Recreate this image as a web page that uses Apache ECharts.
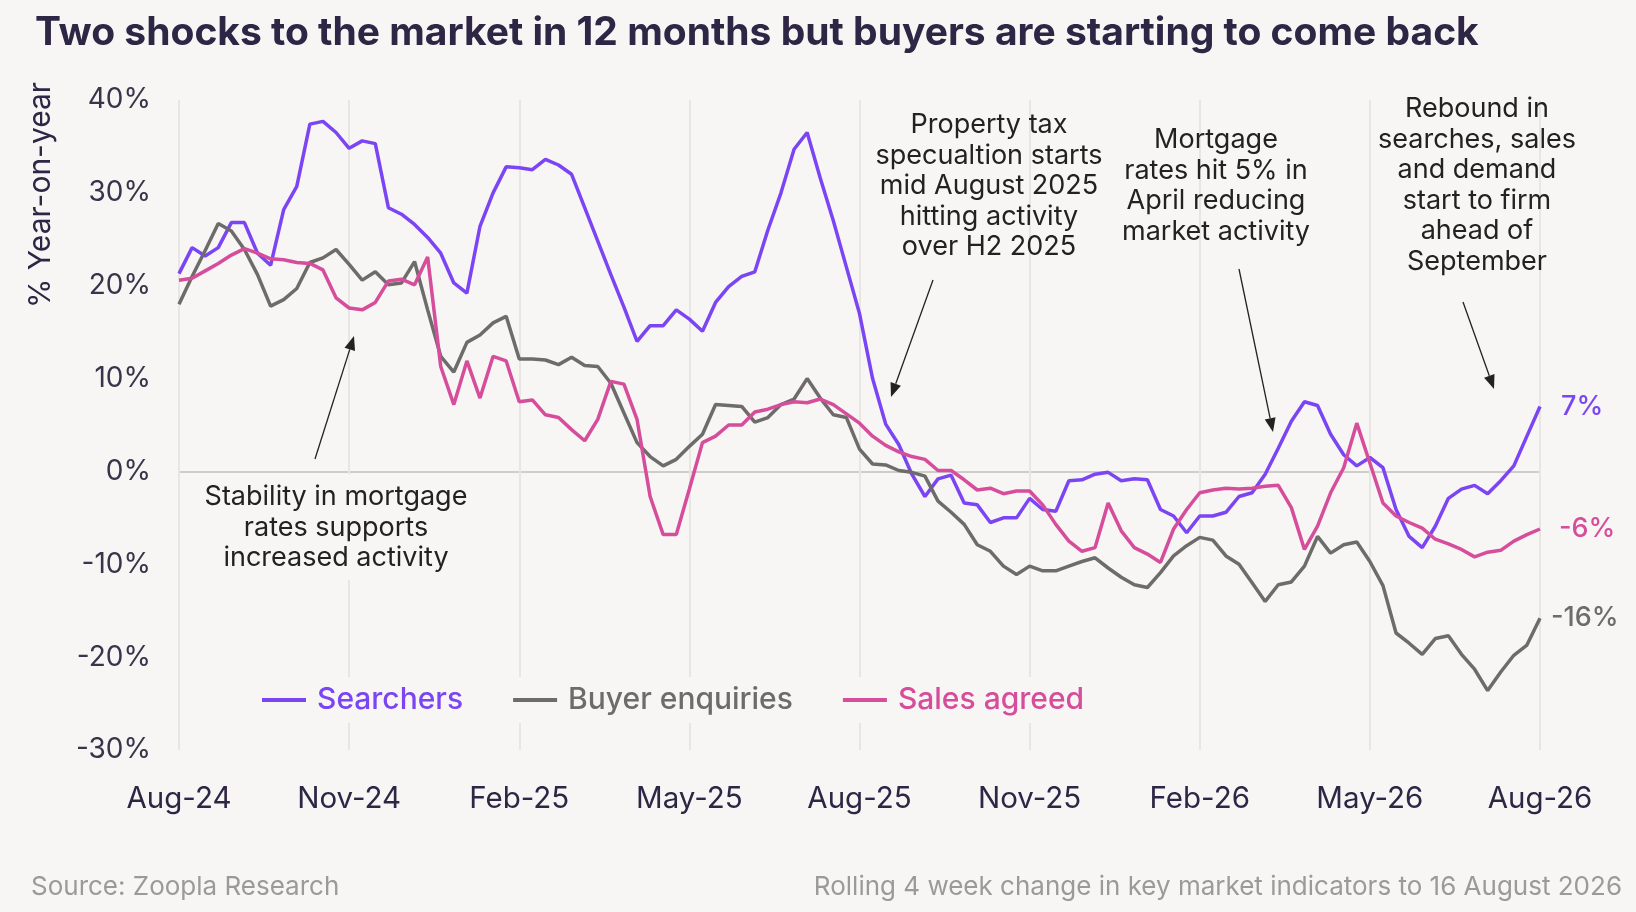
<!DOCTYPE html>
<html>
<head>
<meta charset="utf-8">
<title>Zoopla market indicators</title>
<script src="https://cdn.jsdelivr.net/npm/echarts@6.0.0/dist/echarts.min.js"></script>
<style>
	html, body { margin: 0; padding: 0; background: #f7f6f4; }
	#main { width: 1636px; height: 912px; }
</style>
</head>
<body>
<div id="main"></div>
<script>
// weekly points, rolling 4 week change, to 16 Aug 2026
var tickLabels = ['Aug-24','Nov-24','Feb-25','May-25','Aug-25','Nov-25','Feb-26','May-26','Aug-26'];

var searchers = [
	21.3, 24.1, 23.2, 24.1, 26.8, 26.8, 23.5, 22.2, 28.2, 30.7,
	37.4, 37.7, 36.5, 34.8, 35.6, 35.3, 28.4, 27.7, 26.6, 25.2,
	23.5, 20.3, 19.2, 26.4, 30.0, 32.8, 32.7, 32.5, 33.6, 33.0,
	32.0, 28.4, 24.8, 21.2, 17.7, 14.0, 15.7, 15.7, 17.4, 16.4,
	15.1, 18.2, 19.9, 21.0, 21.5, 26.0, 30.0, 34.7, 36.5, 31.6,
	27.0, 22.0, 17.0, 10.0, 5.1, 2.9, -0.3, -2.7, -0.8, -0.4,
	-3.4, -3.6, -5.5, -5.0, -5.0, -2.9, -4.1, -4.3, -1.0, -0.9,
	-0.3, -0.1, -1.0, -0.8, -0.9, -4.1, -4.8, -6.6, -4.8, -4.8,
	-4.4, -2.7, -2.3, -0.3, 2.5, 5.4, 7.5, 7.1, 4.0, 1.8,
	0.6, 1.5, 0.4, -4.1, -7.0, -8.2, -5.9, -2.9, -1.9, -1.5,
	-2.4, -1.0, 0.6, 3.8, 7.0
];

var buyerEnquiries = [
	18.0, 21.0, 23.8, 26.7, 25.9, 23.9, 21.2, 17.8, 18.5, 19.7,
	22.5, 23.0, 23.9, 22.3, 20.6, 21.5, 20.1, 20.3, 22.6, 17.4,
	12.4, 10.7, 13.9, 14.7, 16.0, 16.7, 12.1, 12.1, 12.0, 11.5,
	12.3, 11.4, 11.3, 9.5, 6.3, 3.1, 1.6, 0.6, 1.3, 2.7,
	4.0, 7.2, 7.1, 7.0, 5.3, 5.8, 7.2, 7.8, 10.0, 7.9,
	6.1, 5.8, 2.4, 0.8, 0.7, 0.1, -0.1, -0.5, -3.2, -4.4,
	-5.7, -7.9, -8.6, -10.2, -11.1, -10.2, -10.7, -10.7, -10.2, -9.7,
	-9.3, -10.4, -11.4, -12.2, -12.5, -10.9, -9.1, -8.0, -7.1, -7.4,
	-9.1, -10.0, -12.0, -14.0, -12.2, -11.9, -10.2, -7.0, -8.8, -7.9,
	-7.6, -9.7, -12.3, -17.4, -18.5, -19.7, -18.0, -17.7, -19.7, -21.3,
	-23.6, -21.6, -19.8, -18.7, -15.8
];

var salesAgreed = [
	20.6, 20.8, 21.6, 22.4, 23.3, 24.0, 23.5, 22.9, 22.8, 22.5,
	22.4, 21.7, 18.7, 17.6, 17.4, 18.2, 20.5, 20.7, 20.1, 23.1,
	11.3, 7.2, 11.9, 7.9, 12.4, 11.9, 7.5, 7.7, 6.1, 5.8,
	4.5, 3.3, 5.6, 9.7, 9.4, 5.6, -2.7, -6.8, -6.8, -1.9,
	3.1, 3.8, 5.0, 5.0, 6.4, 6.7, 7.2, 7.5, 7.4, 7.8,
	7.2, 6.2, 5.2, 3.8, 2.8, 2.1, 1.6, 1.3, 0.1, 0.1,
	-0.9, -2.0, -1.8, -2.4, -2.1, -2.1, -3.6, -5.7, -7.5, -8.6,
	-8.2, -3.4, -6.4, -8.2, -8.9, -9.8, -6.2, -4.1, -2.3, -2.0,
	-1.8, -1.9, -1.8, -1.6, -1.5, -3.9, -8.4, -5.9, -2.3, 0.4,
	5.2, 0.9, -3.4, -4.8, -5.5, -6.1, -7.3, -7.8, -8.4, -9.2,
	-8.7, -8.5, -7.5, -6.8, -6.2
];

// week ending dates for the category axis
var weeks = [];
var d = new Date(Date.UTC(2024, 7, 18));
for (var i = 0; i < searchers.length; i++) {
	weeks.push(d.toISOString().slice(0, 10));
	d = new Date(d.getTime() + 7 * 86400000);
}

var FONT = 'Inter';
var BG = '#f7f6f4';
var PURPLE = '#7b45f4';
var GREY = '#6d6c6a';
var PINK = '#d64d9b';
var NAVY = '#2e2645';
var INK = '#222222';

function arrow(x1, y1, x2, y2) {
	var dx = x2 - x1, dy = y2 - y1;
	var len = Math.sqrt(dx * dx + dy * dy);
	var ux = dx / len, uy = dy / len;
	var L = 14, W = 11;
	var bx = x2 - ux * L, by = y2 - uy * L;
	return [
		{ type: 'line', z: 5, shape: { x1: x1, y1: y1, x2: bx, y2: by }, style: { stroke: INK, lineWidth: 1.3 } },
		{ type: 'polygon', z: 5, shape: { points: [[x2, y2], [bx - uy * W / 2, by + ux * W / 2], [bx + uy * W / 2, by - ux * W / 2]] }, style: { fill: INK } }
	];
}

function note(x, yFirst, text) {
	return {
		type: 'text', z: 5, x: x, y: yFirst - 15.25,
		style: { text: text, fill: INK, font: '27px ' + FONT, textAlign: 'center', verticalAlign: 'top', lineHeight: 30.5 }
	};
}

var graphics = [
	// box under the left note hides the grid lines
	{ type: 'rect', z: 1, shape: { x: 181, y: 474, width: 311, height: 106 }, style: { fill: BG } },
	{ type: 'text', x: 41, y: 195, rotation: Math.PI / 2,
	  style: { text: '% Year-on-year', fill: NAVY, font: '30px ' + FONT, textAlign: 'center', verticalAlign: 'middle' } },
	{ type: 'text', x: 31, y: 887,
	  style: { text: 'Source: Zoopla Research', fill: '#9b9a98', font: '26px ' + FONT, textAlign: 'left', verticalAlign: 'middle' } },
	{ type: 'text', x: 1622, y: 887,
	  style: { text: 'Rolling 4 week change in key market indicators to 16 August 2026', fill: '#9b9a98', font: '26px ' + FONT, textAlign: 'right', verticalAlign: 'middle' } },
	note(336, 497, 'Stability in mortgage\nrates supports\nincreased activity'),
	note(989, 125, 'Property tax\nspecualtion starts\nmid August 2025\nhitting activity\nover H2 2025'),
	note(1216, 140, 'Mortgage\nrates hit 5% in\nApril reducing\nmarket activity'),
	note(1477, 109, 'Rebound in\nsearches, sales\nand demand\nstart to firm\nahead of\nSeptember')
];
graphics = graphics.concat(
	arrow(315, 459, 354, 336),
	arrow(933, 280, 891, 397),
	arrow(1239, 269, 1273, 432),
	arrow(1463, 302, 1494, 389)
);

function lineSeries(name, data, color, dist) {
	return {
		name: name,
		type: 'line',
		data: data,
		showSymbol: false,
		symbol: 'none',
		lineStyle: { color: color, width: 3.5 },
		itemStyle: { color: color },
		endLabel: {
			show: true,
			distance: dist,
			color: color,
			fontFamily: FONT,
			fontSize: 27,
			fontWeight: 500,
			formatter: function (p) { return Math.round(p.value) + '%'; }
		}
	};
}

var myChart = echarts.init(document.getElementById('main'));
var option = {
	backgroundColor: BG,
	animation: false,
	title: {
		text: 'Two shocks to the market in 12 months but buyers are starting to come back',
		left: 30,
		top: 9,
		textStyle: { fontFamily: FONT, fontSize: 39, fontWeight: 700, color: NAVY }
	},
	legend: {
		left: 250,
		top: 677,
		padding: [8, 12],
		itemGap: 50,
		itemWidth: 44,
		itemHeight: 4,
		icon: 'rect',
		backgroundColor: BG,
		textStyle: { fontFamily: FONT, fontSize: 30, fontWeight: 500, padding: [0, 0, 0, 6] },
		data: [
			{ name: 'Searchers', textStyle: { color: PURPLE } },
			{ name: 'Buyer enquiries', textStyle: { color: GREY } },
			{ name: 'Sales agreed', textStyle: { color: PINK } }
		]
	},
	grid: { left: 179, right: 96, top: 100, bottom: 162 },
	xAxis: {
		type: 'category',
		data: weeks,
		boundaryGap: false,
		axisLine: { show: false },
		axisTick: { show: false },
		axisLabel: {
			interval: 12,
			margin: 34,
			color: NAVY,
			fontFamily: FONT,
			fontSize: 29.5,
			formatter: function (v, idx) { return tickLabels[Math.round(idx / 13)]; }
		},
		splitLine: { show: true, interval: 12, lineStyle: { color: '#e8e6e3', width: 2 } }
	},
	yAxis: {
		type: 'value',
		min: -30,
		max: 40,
		interval: 10,
		axisLine: { show: false },
		axisTick: { show: false },
		axisLabel: { formatter: '{value}%', margin: 28, color: '#3a344a', fontFamily: FONT, fontSize: 28 },
		splitLine: {
			show: true,
			lineStyle: { width: 2, color: ['rgba(0,0,0,0)', 'rgba(0,0,0,0)', 'rgba(0,0,0,0)', '#cfcdca', 'rgba(0,0,0,0)', 'rgba(0,0,0,0)', 'rgba(0,0,0,0)', 'rgba(0,0,0,0)'] }
		}
	},
	graphic: graphics,
	series: [
		lineSeries('Searchers', searchers, PURPLE, 21),
		lineSeries('Buyer enquiries', buyerEnquiries, GREY, 11),
		lineSeries('Sales agreed', salesAgreed, PINK, 19)
	]
};
myChart.setOption(option);
</script>
</body>
</html>
